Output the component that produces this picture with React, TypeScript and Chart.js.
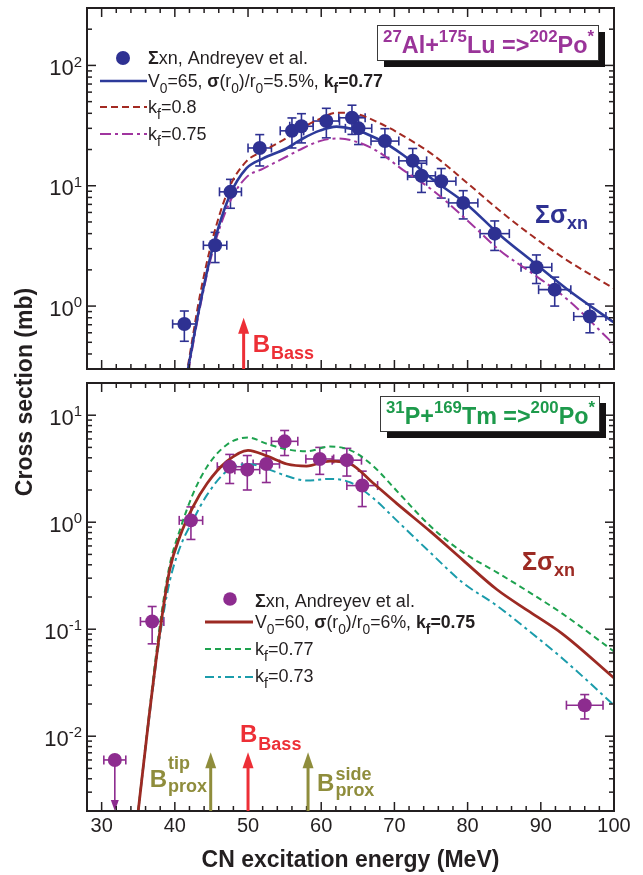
import React, { useEffect, useRef } from "react";
import { Chart, registerables } from "chart.js";
Chart.register(...registerables);

const FONT = '"Liberation Sans", Arial, Helvetica, sans-serif';
const INK = "#231f20";

// ---------- shared x axis ----------
const xMin = 28;
const xMax = 100;
const xMajorTicks = [30, 40, 50, 60, 70, 80, 90, 100];
const xMinorTicks = [32, 34, 36, 38, 42, 44, 46, 48, 52, 54, 56, 58, 62, 64, 66, 68, 72, 74, 76, 78, 82, 84, 86, 88, 92, 94, 96, 98];

// ---------- top panel: 27Al + 175Lu => 202Po* ----------
const topYMin = 0.3;
const topYMax = 300;
const topYDecades = [0, 1, 2];
const topExpE = [41.3, 45.5, 47.6, 51.6, 56.0, 57.3, 60.7, 64.2, 65.1, 68.7, 72.5, 73.7, 76.4, 79.4, 83.7, 89.4, 91.9, 96.7];
const topExpSigma = [0.71, 3.2, 8.9, 20.6, 28.6, 31.2, 34.5, 36.7, 30.0, 23.5, 16.1, 12.1, 10.9, 7.2, 4.0, 2.1, 1.37, 0.82];
const topExpErrE = [1.6, 1.6, 1.5, 1.6, 1.6, 1.6, 1.8, 1.8, 1.8, 1.9, 1.9, 1.9, 2.0, 2.0, 2.0, 2.1, 2.2, 2.2];
const topExpErrSigma = [0.2, 0.9, 2.4, 6.0, 8.0, 8.5, 9.5, 10.0, 8.0, 6.3, 4.3, 3.3, 3.0, 1.9, 1.1, 0.56, 0.37, 0.22];
const topCalcE = [41.8, 43.4, 45.2, 47.5, 49.8, 52.0, 55.3, 57.5, 59.8, 62.1, 64.4, 67.6, 71.2, 75.3, 79.9, 84.4, 88.9, 93.6, 100];
const topKf077 = [0.3, 1.0, 3.1, 8.3, 14.0, 16.8, 20.5, 24.7, 28.7, 31.0, 29.5, 24.7, 18.0, 11.2, 7.0, 3.9, 2.34, 1.38, 0.73];
const topKf080 = [0.32, 1.2, 3.7, 9.8, 16.0, 19.3, 25.0, 30.5, 36.0, 40.5, 40.0, 34.0, 26.0, 18.0, 10.6, 6.2, 3.8, 2.4, 1.4];
const topKf075 = [0.28, 0.95, 2.9, 7.3, 11.8, 13.8, 17.5, 20.5, 23.5, 24.7, 23.6, 19.5, 13.5, 9.1, 5.2, 2.9, 1.86, 1.14, 0.48];
const topBassE = 49.4;
const topBassTip = 0.8;

// ---------- bottom panel: 31P + 169Tm => 200Po* ----------
const botYMin = 0.002;
const botYMax = 20;
const botYDecades = [-2, -1, 0, 1];
const botExpE = [31.8, 36.9, 42.2, 47.5, 49.9, 52.5, 55.0, 59.8, 63.5, 65.6, 96.0];
const botExpSigma = [0.006, 0.118, 1.04, 3.3, 3.1, 3.5, 5.7, 3.9, 3.8, 2.2, 0.0195];
const botExpErrE = [1.5, 1.6, 1.6, 1.7, 1.7, 1.8, 1.8, 1.9, 2.0, 2.1, 2.5];
const botExpErrSigma = [0, 0.045, 0.35, 1.0, 1.1, 1.15, 1.5, 1.1, 1.1, 0.8, 0.005];
const botExpIsLimit = [true, false, false, false, false, false, false, false, false, false, false];
const botCalcE = [35, 36.4, 38, 39.3, 40.7, 42.5, 44.4, 47.1, 50, 52.6, 55.3, 58, 61.2, 64, 67, 70.3, 74.9, 79.4, 84, 88.5, 93, 100];
const botKf075 = [0.002, 0.0137, 0.1, 0.36, 0.74, 1.4, 2.3, 3.7, 4.7, 4.15, 3.5, 3.35, 3.73, 3.5, 2.35, 1.5, 0.82, 0.44, 0.235, 0.145, 0.09, 0.035];
const botKf077 = [0.002, 0.0145, 0.115, 0.4, 0.85, 1.85, 3.3, 5.3, 6.2, 5.4, 4.8, 4.6, 5.1, 4.7, 3.4, 1.97, 0.92, 0.52, 0.34, 0.22, 0.139, 0.062];
const botKf073 = [0.002, 0.013, 0.09, 0.28, 0.58, 1.05, 1.8, 3.0, 3.5, 3.15, 2.7, 2.45, 2.54, 2.35, 1.7, 1.04, 0.52, 0.27, 0.166, 0.095, 0.053, 0.0195];
const botBassE = 50.0;
const botTipE = 44.9;
const botSideE = 58.2;
const botArrowTip = 0.0071;

// ---------- styles ----------
const BLUE_DOT = "#2e3192";
const BLUE_LINE = "#2d3a9a";
const RED_DASH = "#a32a22";
const PURPLE_DD = "#a0359f";
const TITLE_TOP = "#9a3499";
const PURPLE_DOT = "#8d2c8f";
const RED_SOLID = "#9c2a23";
const GREEN = "#1ea24f";
const CYAN = "#1b9cab";
const TITLE_BOT = "#1d9a4b";
const RED_ARROW = "#ed2f36";
const OLIVE = "#8f8d3c";

const TOP_H = 376;
const BOT_TOP = 376;
const BOT_H = 499;

type Seg = { t: string; b?: boolean; sub?: boolean; sup?: boolean };
type Sc = { sub: number; subDy: number; sup: number; supDy: number };
const DEF_SC: Sc = { sub: 0.78, subDy: 0.33, sup: 0.72, supDy: -0.45 };

function measureRich(ctx: CanvasRenderingContext2D, segs: Seg[], size: number, sc: Sc = DEF_SC) {
  let total = 0;
  for (const s of segs) {
    const sz = s.sub ? size * sc.sub : s.sup ? size * sc.sup : size;
    ctx.font = `${s.b ? "bold " : ""}${sz}px ${FONT}`;
    total += ctx.measureText(s.t).width;
  }
  return total;
}

function drawRich(
  ctx: CanvasRenderingContext2D,
  x: number,
  y: number,
  segs: Seg[],
  size: number,
  color: string,
  align: "left" | "center" | "right" = "left",
  sc: Sc = DEF_SC
) {
  const items = segs.map((s) => {
    const sz = s.sub ? size * sc.sub : s.sup ? size * sc.sup : size;
    const font = `${s.b ? "bold " : ""}${sz}px ${FONT}`;
    ctx.font = font;
    return {
      t: s.t,
      font,
      w: ctx.measureText(s.t).width,
      dy: s.sub ? size * sc.subDy : s.sup ? size * sc.supDy : 0,
    };
  });
  const total = items.reduce((a, i) => a + i.w, 0);
  let cx = align === "center" ? x - total / 2 : align === "right" ? x - total : x;
  ctx.fillStyle = color;
  ctx.textAlign = "left";
  ctx.textBaseline = "alphabetic";
  for (const i of items) {
    ctx.font = i.font;
    ctx.fillText(i.t, cx, y + i.dy);
    cx += i.w;
  }
  return total;
}

function line(ctx: CanvasRenderingContext2D, x0: number, y0: number, x1: number, y1: number) {
  ctx.beginPath();
  ctx.moveTo(x0, y0);
  ctx.lineTo(x1, y1);
  ctx.stroke();
}

function drawFrame(chart: any, decades: number[]) {
  const ctx: CanvasRenderingContext2D = chart.ctx;
  const a = chart.chartArea;
  const xs = chart.scales.x;
  const ys = chart.scales.y;
  ctx.save();
  ctx.strokeStyle = INK;
  ctx.lineWidth = 1.5;
  ctx.setLineDash([]);
  const xt = [...xMajorTicks.map((v) => [v, 9]), ...xMinorTicks.map((v) => [v, 5])];
  for (const [v, len] of xt) {
    const px = xs.getPixelForValue(v);
    if (px <= a.left + 1 || px >= a.right - 1) continue;
    line(ctx, px, a.bottom, px, a.bottom - len);
    line(ctx, px, a.top, px, a.top + len);
  }
  const lo = Math.min(...decades) - 1;
  const hi = Math.max(...decades) + 1;
  for (let d = lo; d <= hi; d++) {
    for (let m = 1; m <= 9; m++) {
      const v = m * Math.pow(10, d);
      if (v <= ys.min * 1.0001 || v >= ys.max * 0.9999) continue;
      const py = ys.getPixelForValue(v);
      const len = m === 1 ? 9 : 5;
      line(ctx, a.left, py, a.left + len, py);
      line(ctx, a.right, py, a.right - len, py);
    }
  }
  for (const d of decades) {
    const py = ys.getPixelForValue(Math.pow(10, d));
    drawRich(ctx, a.left - 5, py + 9.5, [{ t: "10" }, { t: String(d), sup: true }], 22, INK, "right", {
      sub: 0.75,
      subDy: 0.3,
      sup: 0.68,
      supDy: -0.38,
    });
  }
  ctx.lineWidth = 2;
  ctx.strokeRect(a.left, a.top, a.right - a.left, a.bottom - a.top);
  ctx.restore();
}

function drawErrorBars(
  chart: any,
  E: number[],
  S: number[],
  dE: number[],
  dS: number[],
  limit: boolean[] | null,
  color: string
) {
  const ctx: CanvasRenderingContext2D = chart.ctx;
  const xs = chart.scales.x;
  const ys = chart.scales.y;
  const a = chart.chartArea;
  ctx.save();
  ctx.strokeStyle = color;
  ctx.fillStyle = color;
  ctx.lineWidth = 1.6;
  ctx.setLineDash([]);
  const cap = 4.5;
  for (let i = 0; i < E.length; i++) {
    const px = xs.getPixelForValue(E[i]);
    const py = ys.getPixelForValue(S[i]);
    const xl = xs.getPixelForValue(E[i] - dE[i]);
    const xr = xs.getPixelForValue(E[i] + dE[i]);
    line(ctx, xl, py, xr, py);
    line(ctx, xl, py - cap, xl, py + cap);
    line(ctx, xr, py - cap, xr, py + cap);
    if (limit && limit[i]) {
      const headL = 11;
      line(ctx, px, py, px, a.bottom - headL + 1);
      ctx.beginPath();
      ctx.moveTo(px, a.bottom);
      ctx.lineTo(px - 4, a.bottom - headL);
      ctx.lineTo(px + 4, a.bottom - headL);
      ctx.closePath();
      ctx.fill();
    } else {
      const yt = ys.getPixelForValue(S[i] + dS[i]);
      const yb = ys.getPixelForValue(S[i] - dS[i]);
      line(ctx, px, yt, px, yb);
      line(ctx, px - cap, yt, px + cap, yt);
      line(ctx, px - cap, yb, px + cap, yb);
    }
  }
  ctx.restore();
}

function drawUpArrow(ctx: CanvasRenderingContext2D, x: number, yBase: number, yTip: number, color: string) {
  const headL = 16;
  const headW = 11;
  ctx.save();
  ctx.strokeStyle = color;
  ctx.fillStyle = color;
  ctx.lineWidth = 3;
  ctx.setLineDash([]);
  line(ctx, x, yBase, x, yTip + headL - 1);
  ctx.beginPath();
  ctx.moveTo(x, yTip);
  ctx.lineTo(x - headW / 2, yTip + headL);
  ctx.lineTo(x + headW / 2, yTip + headL);
  ctx.closePath();
  ctx.fill();
  ctx.restore();
}

function drawTitleBox(
  ctx: CanvasRenderingContext2D,
  x0: number,
  y0: number,
  x1: number,
  y1: number,
  segs: Seg[],
  color: string,
  baseline: number
) {
  ctx.save();
  ctx.fillStyle = "#141213";
  ctx.fillRect(x0 + 7, y0 + 7, x1 - x0, y1 - y0);
  ctx.fillStyle = "#ffffff";
  ctx.fillRect(x0, y0, x1 - x0, y1 - y0);
  ctx.strokeStyle = "#3a3a3a";
  ctx.lineWidth = 1;
  ctx.strokeRect(x0 + 0.5, y0 + 0.5, x1 - x0, y1 - y0);
  let size = 24;
  const maxW = x1 - x0 - 10;
  const w = measureRich(ctx, segs, size);
  if (w > maxW) size = (size * maxW) / w;
  drawRich(ctx, (x0 + x1) / 2 + 1, baseline, segs, size, color, "center");
  ctx.restore();
}

function legendLine(ctx: CanvasRenderingContext2D, x0: number, x1: number, y: number, color: string, w: number, dash: number[]) {
  ctx.save();
  ctx.strokeStyle = color;
  ctx.lineWidth = w;
  ctx.setLineDash(dash);
  line(ctx, x0, y, x1, y);
  ctx.restore();
}

function dot(ctx: CanvasRenderingContext2D, x: number, y: number, r: number, color: string) {
  ctx.save();
  ctx.fillStyle = color;
  ctx.beginPath();
  ctx.arc(x, y, r, 0, Math.PI * 2);
  ctx.fill();
  ctx.restore();
}

function sigmaLabel(ctx: CanvasRenderingContext2D, x: number, y: number, color: string) {
  ctx.save();
  ctx.font = `bold 25px ${FONT}`;
  ctx.fillStyle = color;
  ctx.textBaseline = "alphabetic";
  ctx.textAlign = "left";
  ctx.fillText("Σσ", x, y);
  const w = ctx.measureText("Σσ").width;
  ctx.font = `bold 18px ${FONT}`;
  ctx.fillText("xn", x + w, y + 6);
  ctx.restore();
}

function barrierLabel(
  ctx: CanvasRenderingContext2D,
  x: number,
  y: number,
  color: string,
  sub: string,
  sup: string | null,
  subDy: number,
  supDy: number
) {
  ctx.save();
  ctx.fillStyle = color;
  ctx.textBaseline = "alphabetic";
  ctx.textAlign = "left";
  ctx.font = `bold 24px ${FONT}`;
  ctx.fillText("B", x, y);
  const w = ctx.measureText("B").width + 1;
  ctx.font = `bold 18px ${FONT}`;
  ctx.fillText(sub, x + w, y + subDy);
  if (sup) ctx.fillText(sup, x + w, y + supDy);
  ctx.restore();
}

const pts = (xs: number[], ys: number[]) => xs.map((x, i) => ({ x, y: ys[i] }));

function baseScales(yMin: number, yMax: number, xHeight: number, showX: boolean) {
  return {
    x: {
      type: "linear" as const,
      min: xMin,
      max: xMax,
      afterBuildTicks: (s: any) => {
        s.ticks = xMajorTicks.map((v) => ({ value: v }));
      },
      ticks: {
        display: showX,
        font: { family: FONT, size: 20 },
        color: INK,
        padding: 3,
        maxRotation: 0,
        autoSkip: false,
      },
      grid: { display: false, drawTicks: false },
      border: { display: false },
      title: {
        display: showX,
        text: "CN excitation energy (MeV)",
        font: { family: FONT, size: 23, weight: "bold" as const },
        color: INK,
        padding: { top: 0, bottom: 1 },
      },
      afterFit: (s: any) => {
        s.height = xHeight;
      },
    },
    y: {
      type: "logarithmic" as const,
      min: yMin,
      max: yMax,
      ticks: { display: false },
      grid: { display: false, drawTicks: false },
      border: { display: false },
      afterFit: (s: any) => {
        s.width = 87;
      },
    },
  };
}

function curve(data: any, color: string, width: number, dash: number[]) {
  return {
    data,
    showLine: true,
    borderColor: color,
    borderWidth: width,
    borderDash: dash,
    pointRadius: 0,
    pointHoverRadius: 0,
    cubicInterpolationMode: "monotone" as const,
    fill: false,
  };
}

function topConfig(): any {
  const plugin = {
    id: "topPanel",
    beforeDatasetsDraw(chart: any) {
      drawErrorBars(chart, topExpE, topExpSigma, topExpErrE, topExpErrSigma, null, BLUE_DOT);
    },
    afterDatasetsDraw(chart: any) {
      const ctx: CanvasRenderingContext2D = chart.ctx;
      const a = chart.chartArea;
      const xs = chart.scales.x;
      const ys = chart.scales.y;
      drawFrame(chart, topYDecades);
      const bx = xs.getPixelForValue(topBassE);
      drawUpArrow(ctx, bx, a.bottom, ys.getPixelForValue(topBassTip), RED_ARROW);
      barrierLabel(ctx, bx + 9, 352, RED_ARROW, "Bass", null, 7, 0);
      // legend
      dot(ctx, 123, 58, 7, BLUE_DOT);
      drawRich(ctx, 148, 64, [{ t: "Σ", b: true }, { t: "xn, Andreyev et al." }], 18, INK);
      legendLine(ctx, 100, 147, 81, BLUE_LINE, 2.5, []);
      drawRich(
        ctx,
        148,
        87,
        [
          { t: "V" },
          { t: "0", sub: true },
          { t: "=65, " },
          { t: "σ", b: true },
          { t: "(r" },
          { t: "0", sub: true },
          { t: ")/r" },
          { t: "0", sub: true },
          { t: "=5.5%, " },
          { t: "k", b: true },
          { t: "f", b: true, sub: true },
          { t: "=0.77", b: true },
        ],
        17.7,
        INK
      );
      legendLine(ctx, 100, 147, 107, RED_DASH, 2, [7, 4]);
      drawRich(ctx, 148, 113, [{ t: "k" }, { t: "f", sub: true }, { t: "=0.8" }], 18, INK);
      legendLine(ctx, 100, 147, 134, PURPLE_DD, 2, [11, 4, 3, 4]);
      drawRich(ctx, 148, 140, [{ t: "k" }, { t: "f", sub: true }, { t: "=0.75" }], 18, INK);
      // title box
      drawTitleBox(
        ctx,
        377,
        25,
        598,
        60,
        [
          { t: "27", b: true, sup: true },
          { t: "Al+", b: true },
          { t: "175", b: true, sup: true },
          { t: "Lu =>", b: true },
          { t: "202", b: true, sup: true },
          { t: "Po", b: true },
          { t: "*", b: true, sup: true },
        ],
        TITLE_TOP,
        53
      );
      sigmaLabel(ctx, 535, 223, BLUE_DOT);
    },
  };
  return {
    type: "scatter",
    data: {
      datasets: [
        {
          data: pts(topExpE, topExpSigma),
          pointRadius: 7,
          pointHoverRadius: 7,
          pointBackgroundColor: BLUE_DOT,
          pointBorderWidth: 0,
          showLine: false,
        },
        curve(pts(topCalcE, topKf077), BLUE_LINE, 2.6, []),
        curve(pts(topCalcE, topKf080), RED_DASH, 2, [7, 4]),
        curve(pts(topCalcE, topKf075), PURPLE_DD, 2, [11, 4, 3, 4]),
      ],
    },
    options: {
      responsive: false,
      animation: false,
      devicePixelRatio: 1,
      events: [],
      layout: { padding: { left: 0, right: 29, top: 8, bottom: 0 } },
      plugins: { legend: { display: false }, tooltip: { enabled: false } },
      scales: baseScales(topYMin, topYMax, 2, false),
    },
    plugins: [plugin],
  };
}

function botConfig(): any {
  const T = (v: number) => v - BOT_TOP;
  const plugin = {
    id: "botPanel",
    beforeDatasetsDraw(chart: any) {
      drawErrorBars(chart, botExpE, botExpSigma, botExpErrE, botExpErrSigma, botExpIsLimit, PURPLE_DOT);
    },
    afterDatasetsDraw(chart: any) {
      const ctx: CanvasRenderingContext2D = chart.ctx;
      const a = chart.chartArea;
      const xs = chart.scales.x;
      const ys = chart.scales.y;
      drawFrame(chart, botYDecades);
      const tipY = ys.getPixelForValue(botArrowTip);
      const tx = xs.getPixelForValue(botTipE);
      const bx = xs.getPixelForValue(botBassE);
      const sx = xs.getPixelForValue(botSideE);
      drawUpArrow(ctx, tx, a.bottom, tipY, OLIVE);
      drawUpArrow(ctx, bx, a.bottom, tipY, RED_ARROW);
      drawUpArrow(ctx, sx, a.bottom, tipY, OLIVE);
      barrierLabel(ctx, bx - 8, T(742), RED_ARROW, "Bass", null, 8, 0);
      barrierLabel(ctx, tx - 61, T(787), OLIVE, "prox", "tip", 5, -18);
      barrierLabel(ctx, sx + 9, T(791), OLIVE, "prox", "side", 5, -11);
      // legend
      dot(ctx, 230, T(599), 6.8, PURPLE_DOT);
      drawRich(ctx, 255, T(607), [{ t: "Σ", b: true }, { t: "xn, Andreyev et al." }], 18, INK);
      legendLine(ctx, 205, 253, T(622), RED_SOLID, 2.8, []);
      drawRich(
        ctx,
        255,
        T(628),
        [
          { t: "V" },
          { t: "0", sub: true },
          { t: "=60, " },
          { t: "σ", b: true },
          { t: "(r" },
          { t: "0", sub: true },
          { t: ")/r" },
          { t: "0", sub: true },
          { t: "=6%, " },
          { t: "k", b: true },
          { t: "f", b: true, sub: true },
          { t: "=0.75", b: true },
        ],
        17.7,
        INK
      );
      legendLine(ctx, 205, 253, T(649), GREEN, 2, [6, 4]);
      drawRich(ctx, 255, T(655), [{ t: "k" }, { t: "f", sub: true }, { t: "=0.77" }], 18, INK);
      legendLine(ctx, 205, 253, T(677), CYAN, 2, [9, 4, 3, 4]);
      drawRich(ctx, 255, T(682), [{ t: "k" }, { t: "f", sub: true }, { t: "=0.73" }], 18, INK);
      drawTitleBox(
        ctx,
        380,
        T(396),
        599,
        T(431),
        [
          { t: "31", b: true, sup: true },
          { t: "P+", b: true },
          { t: "169", b: true, sup: true },
          { t: "Tm =>", b: true },
          { t: "200", b: true, sup: true },
          { t: "Po", b: true },
          { t: "*", b: true, sup: true },
        ],
        TITLE_BOT,
        T(424)
      );
      sigmaLabel(ctx, 522, T(570), RED_SOLID);
    },
  };
  return {
    type: "scatter",
    data: {
      datasets: [
        {
          data: pts(botExpE, botExpSigma),
          pointRadius: 7,
          pointHoverRadius: 7,
          pointBackgroundColor: PURPLE_DOT,
          pointBorderWidth: 0,
          showLine: false,
        },
        curve(pts(botCalcE, botKf075), RED_SOLID, 2.8, []),
        curve(pts(botCalcE, botKf077), GREEN, 2, [6, 4]),
        curve(pts(botCalcE, botKf073), CYAN, 2, [9, 4, 3, 4]),
      ],
    },
    options: {
      responsive: false,
      animation: false,
      devicePixelRatio: 1,
      events: [],
      layout: { padding: { left: 0, right: 29, top: 2, bottom: 0 } },
      plugins: { legend: { display: false }, tooltip: { enabled: false } },
      scales: baseScales(botYMin, botYMax, BOT_H - (811 - BOT_TOP), true),
    },
    plugins: [plugin],
  };
}

export default function App() {
  const topRef = useRef<HTMLCanvasElement>(null);
  const botRef = useRef<HTMLCanvasElement>(null);
  useEffect(() => {
    const c1 = new Chart(topRef.current as HTMLCanvasElement, topConfig());
    const c2 = new Chart(botRef.current as HTMLCanvasElement, botConfig());
    return () => {
      c1.destroy();
      c2.destroy();
    };
  }, []);
  return (
    <div style={{ position: "absolute", left: 0, top: 0, width: 643, height: 875, background: "#fff", overflow: "hidden" }}>
      <canvas
        ref={topRef}
        width={643}
        height={TOP_H}
        style={{ position: "absolute", left: 0, top: 0, width: 643, height: TOP_H }}
      />
      <canvas
        ref={botRef}
        width={643}
        height={BOT_H}
        style={{ position: "absolute", left: 0, top: BOT_TOP, width: 643, height: BOT_H }}
      />
      <div
        style={{
          position: "absolute",
          left: 25 - 150,
          top: 392 - 14,
          width: 300,
          height: 28,
          lineHeight: "28px",
          textAlign: "center",
          transform: "rotate(-90deg)",
          font: `bold 23px ${FONT}`,
          color: INK,
          whiteSpace: "nowrap",
        }}
      >
        Cross section (mb)
      </div>
    </div>
  );
}
